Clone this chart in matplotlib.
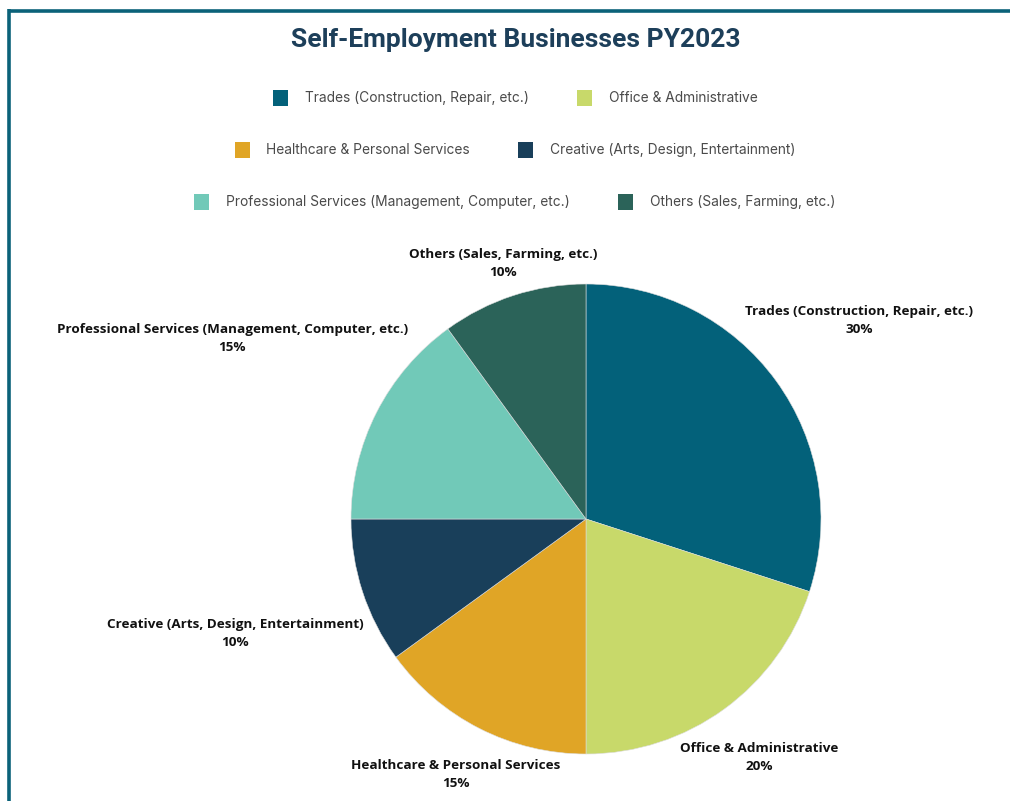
import matplotlib
matplotlib.use('Agg')
import matplotlib.pyplot as plt
from matplotlib.patches import Rectangle
from matplotlib.lines import Line2D
import numpy as np

categories = [
    'Trades (Construction, Repair, etc.)',
    'Office & Administrative',
    'Healthcare & Personal Services',
    'Creative (Arts, Design, Entertainment)',
    'Professional Services (Management, Computer, etc.)',
    'Others (Sales, Farming, etc.)',
]
shares = [30, 20, 15, 10, 15, 10]
colors = ['#03617a', '#c8d96a', '#e0a526', '#193f5a', '#71c9b8', '#2b6359']

# how far out each slice label sits, in pie radii
label_radius = [1.435, 1.255, 1.22, 1.57, 1.69, 1.145]

W, H = 1010, 801
fig = plt.figure(figsize=(W / 100, H / 100), dpi=100)
fig.patch.set_facecolor('white')

# frame: top rule and left rule
border = '#0b6279'
fig.add_artist(Line2D([8 / W, 1], [1 - 10.5 / H] * 2, color=border, lw=2.6,
                      transform=fig.transFigure, solid_capstyle='butt'))
fig.add_artist(Line2D([8.5 / W] * 2, [0, 1 - 9.2 / H], color=border, lw=2.6,
                      transform=fig.transFigure, solid_capstyle='butt'))

fig.text(516 / W, 1 - 40 / H, 'Self-Employment Businesses PY2023',
         ha='center', va='center', fontsize=19, fontweight='bold',
         family='Roboto', color='#1d3f5a')

# legend, two entries per row, each row centred
rows = [(0, 1), (2, 3), (4, 5)]
row_y = [98, 150, 202]
sq = 15
sq_gap = 17
item_gap = 48
legend_font = dict(fontsize=9.9, family='Inter', color='#4a4a4a', va='center')
renderer = fig.canvas.get_renderer()
for (a, b), y in zip(rows, row_y):
    widths = []
    for i in (a, b):
        t = fig.text(0, 0, categories[i], **legend_font)
        widths.append(t.get_window_extent(renderer).width)
        t.remove()
    total = 2 * (sq + sq_gap) + sum(widths) + item_gap
    x = 515 - total / 2
    for i, w in zip((a, b), widths):
        fig.add_artist(Rectangle((x / W, 1 - (y + sq / 2) / H), sq / W, sq / H,
                                 transform=fig.transFigure, color=colors[i], lw=0))
        fig.text((x + sq + sq_gap) / W, 1 - y / H, categories[i], **legend_font)
        x += sq + sq_gap + w + item_gap

# pie
cx, cy, r = 586, 519, 235
ax = fig.add_axes([(cx - r) / W, (H - cy - r) / H, 2 * r / W, 2 * r / H])
wedges, _ = ax.pie(shares, colors=colors, startangle=90, counterclock=False,
                   radius=1, wedgeprops=dict(edgecolor='#dddddd', linewidth=0.4))
ax.set_xlim(-1, 1)
ax.set_ylim(-1, 1)
ax.set_aspect('equal')
ax.axis('off')

total = sum(shares)
start = 0
for name, val, dist in zip(categories, shares, label_radius):
    mid = np.deg2rad(90 - 360 * (start + val / 2) / total)
    start += val
    ax.text(dist * np.cos(mid), dist * np.sin(mid),
            f'{name}\n{round(100 * val / total)}%',
            ha='center', va='center', fontsize=9.7, fontweight='bold',
            family='Open Sans', color='#111111', linespacing=1.5, clip_on=False)

fig.savefig('out.png', dpi=100, facecolor='white')
